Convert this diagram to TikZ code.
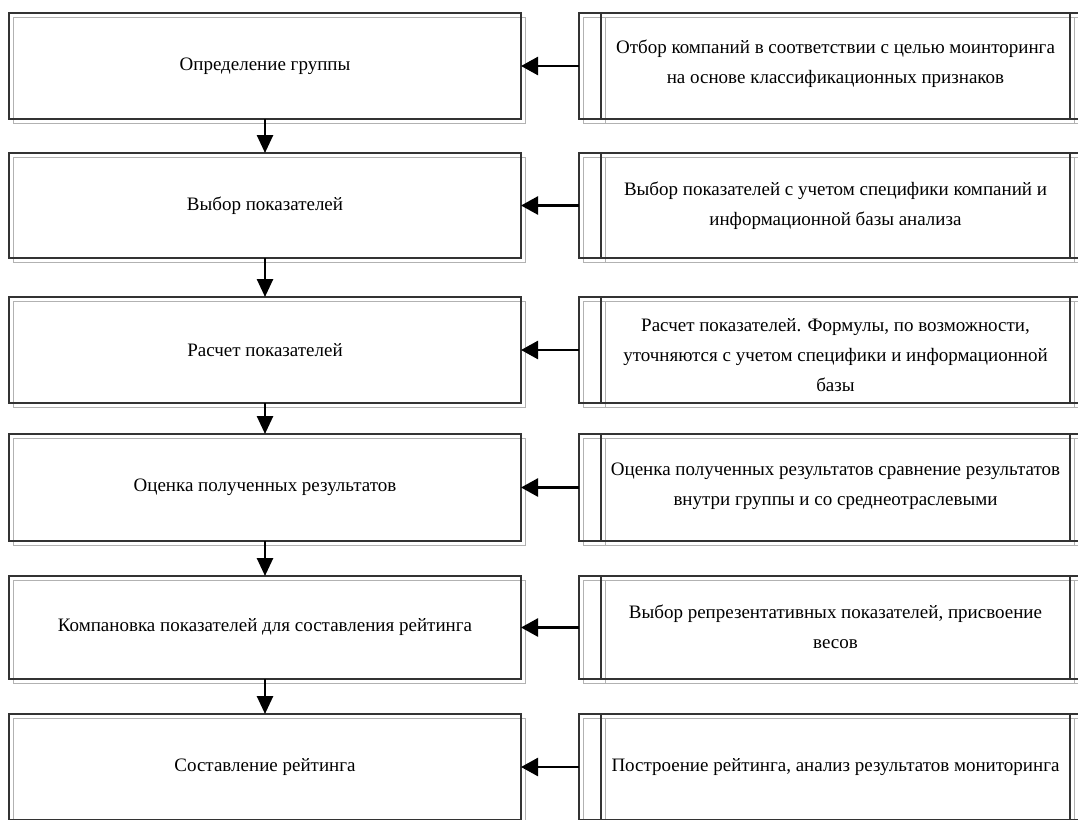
\documentclass[tikz,border=0pt]{standalone}
\usepackage{fontspec}
\setmainfont{Liberation Serif}
\usetikzlibrary{arrows.meta}
\begin{document}
\begin{tikzpicture}[x=1pt,y=-1pt,
  every node/.style={outer sep=0pt,inner sep=0pt},
  lbox/.style={draw=black!80,line width=1.2pt,minimum width=512pt,minimum height=#1,font=\fontsize{19}{30}\selectfont},
  rframe/.style={draw=black!80,line width=1.2pt,minimum width=521pt,minimum height=#1},
  rtext/.style={align=center,font=\fontsize{19}{30}\selectfont},
  shade/.style={draw=black!30,line width=1pt},
  inner/.style={draw=black!80,line width=1.2pt},
  harrow/.style={line width=2.6pt,-{Triangle[length=17pt,width=18pt]}},
  varrow/.style={line width=2.6pt,-{Triangle[length=18pt,width=16pt]}}]
\useasboundingbox (0,0) rectangle (1078,819);
\clip (0,0) rectangle (1078,819);
\foreach \t/\b [count=\i] in {13/119,153/258,297/403,434/541,576/679,714/820}{
  \draw[shade] (13,\t+4) rectangle (525,\b+4);
  \draw[shade] (583,\t+4) rectangle (1110,\b+4);
  \draw[shade] (605,\t+4) -- (605,\b+4);
  \draw[shade] (1074,\t+4) -- (1074,\b+4);
}
\node[lbox=106pt] (L1) at (265,66) {Определение группы};
\node[lbox=105pt] (L2) at (265,205.5) {Выбор показателей};
\node[lbox=106pt] (L3) at (265,350) {Расчет показателей};
\node[lbox=107pt] (L4) at (265,487.5) {Оценка полученных результатов};
\node[lbox=103pt] (L5) at (265,627.5) {Компановка показателей для составления рейтинга};
\node[lbox=106pt] (L6) at (265,767) {Составление рейтинга};

\node[rframe=106pt] (R1) at (839.5,66) {};
\node[rframe=105pt] (R2) at (839.5,205.5) {};
\node[rframe=106pt] (R3) at (839.5,350) {};
\node[rframe=107pt] (R4) at (839.5,487.5) {};
\node[rframe=103pt] (R5) at (839.5,627.5) {};
\node[rframe=106pt] (R6) at (839.5,767) {};
\foreach \i in {1,...,6}{
  \draw[inner] ([xshift=22pt]R\i.north west) -- ([xshift=22pt]R\i.south west);
  \draw[inner] ([xshift=491pt]R\i.north west) -- ([xshift=491pt]R\i.south west);
}
\node[rtext] (T1) at (835.5,64) {Отбор компаний в соответствии с целью моинторинга\\на основе классификационных признаков};
\node[rtext] (T2) at (835.5,206) {Выбор показателей с учетом специфики компаний и\\информационной базы анализа};
\node[rtext] (T3) at (835.5,355) {Расчет показателей. Формулы, по возможности,\\уточняются с учетом специфики и информационной\\базы};
\node[rtext] (T4) at (835.5,486) {Оценка полученных результатов сравнение результатов\\внутри группы и со среднеотраслевыми};
\node[rtext] (T5) at (835.5,627) {Выбор репрезентативных показателей, присвоение\\весов};
\node[rtext] (T6) at (835.5,767) {Построение рейтинга, анализ результатов мониторинга};

\foreach \i in {1,...,6}{
  \draw[harrow] (R\i.west) -- (L\i.east);
}
\foreach \i/\j in {1/2,2/3,3/4,4/5,5/6}{
  \draw[varrow] (L\i.south) -- (L\j.north);
}
\end{tikzpicture}
\end{document}
